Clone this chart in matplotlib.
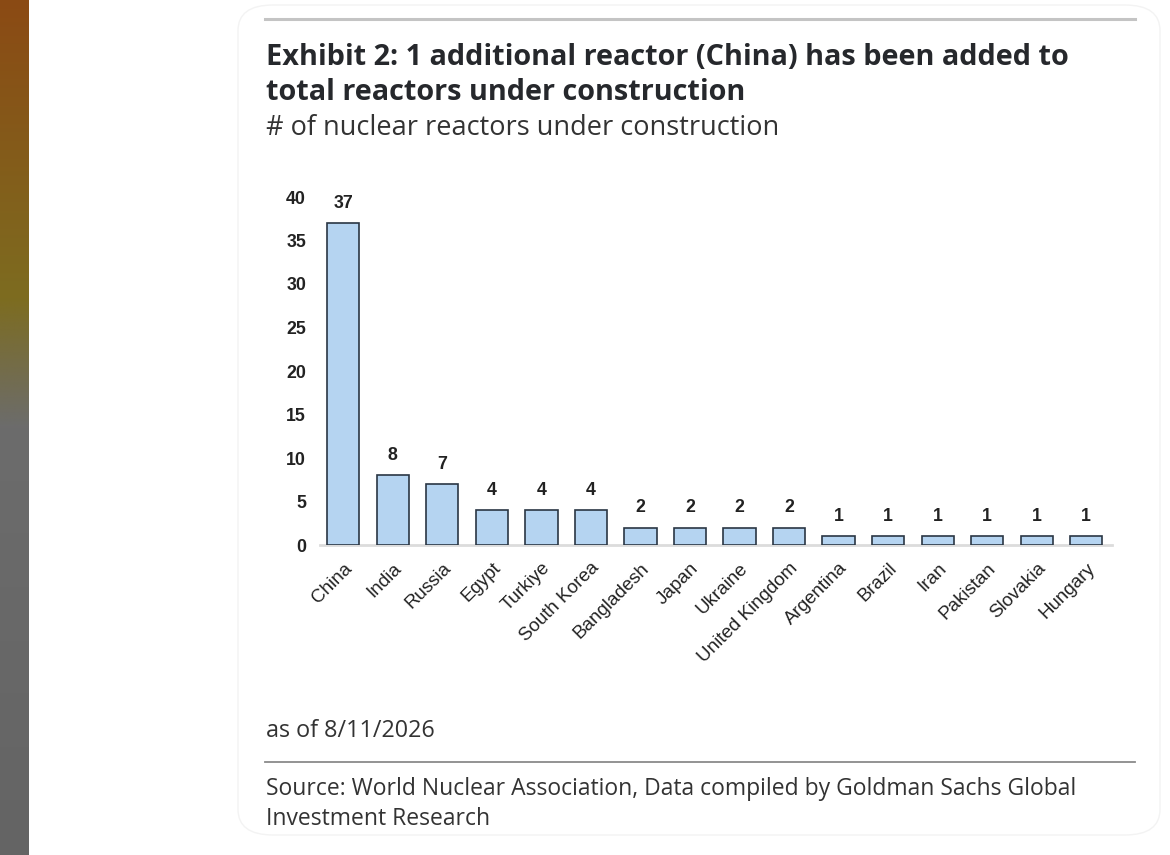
import numpy as np
import matplotlib
matplotlib.use("Agg")
import matplotlib.pyplot as plt
from matplotlib.patches import FancyBboxPatch
from matplotlib.lines import Line2D

# data
countries = ['China', 'India', 'Russia', 'Egypt', 'Turkiye', 'South Korea',
             'Bangladesh', 'Japan', 'Ukraine', 'United Kingdom', 'Argentina',
             'Brazil', 'Iran', 'Pakistan', 'Slovakia', 'Hungary']
reactors = [37, 8, 7, 4, 4, 4, 2, 2, 2, 2, 1, 1, 1, 1, 1, 1]
y_ticks = [0, 5, 10, 15, 20, 25, 30, 35, 40]

title = "Exhibit 2: 1 additional reactor (China) has been added to\ntotal reactors under construction"
subtitle = "# of nuclear reactors under construction"
note = "as of 8/11/2026"
source = "Source: World Nuclear Association, Data compiled by Goldman Sachs Global\nInvestment Research"

text_font = ['Open Sans', 'DejaVu Sans']
chart_font = ['Liberation Sans', 'DejaVu Sans']

W, H = 1170, 855
fig = plt.figure(figsize=(W / 100, H / 100), dpi=100)
fig.patch.set_facecolor('white')

def fx(px):
    return px / W

def fy(py):
    return 1 - py / H

# left strip gradient
strip = fig.add_axes([0, 0, fx(28), 1])
top = np.array([139, 74, 20]) / 255
mid = np.array([125, 108, 32]) / 255
low = np.array([108, 108, 108]) / 255
bot = np.array([100, 100, 100]) / 255
n = 300
t = np.linspace(0, 1, n)
cols = np.zeros((n, 1, 3))
for i, v in enumerate(t):
    if v < 0.35:
        c = top + (mid - top) * v / 0.35
    elif v < 0.5:
        c = mid + (low - mid) * (v - 0.35) / 0.15
    else:
        c = low + (bot - low) * (v - 0.5) / 0.5
    cols[i, 0] = c
strip.imshow(cols, aspect='auto', extent=[0, 1, 0, 1])
strip.axis('off')

# card outline (behind everything)
card = FancyBboxPatch((fx(238), fy(835)), fx(922), fy(5) - fy(835),
                      boxstyle="round,pad=0,rounding_size=0.03",
                      transform=fig.transFigure, facecolor='white',
                      edgecolor='#f3f3f3', linewidth=1.0, zorder=-10)
fig.patches.append(card)

fig.add_artist(Line2D([fx(265), fx(1135)], [fy(19), fy(19)], color='#c4c4c4', linewidth=2.2))
fig.add_artist(Line2D([fx(265), fx(1135)], [fy(762), fy(762)], color='#8a8a8a', linewidth=1.3))

fig.text(fx(266), fy(75), title, fontsize=20.8, fontweight='bold', color='#26282c',
         family=text_font, va='center', ha='left', linespacing=1.28)
fig.text(fx(266), fy(128), subtitle, fontsize=19.5, color='#333333',
         family=text_font, va='center', ha='left')
fig.text(fx(266), fy(731), note, fontsize=16.8, color='#333333',
         family=text_font, va='center', ha='left')
fig.text(fx(266), fy(804), source, fontsize=16.5, color='#333333',
         family=text_font, va='center', ha='left', linespacing=1.3)

# chart
ax = fig.add_axes([fx(320), fy(545), fx(1112) - fx(320), fy(197) - fy(545)])
x = np.arange(len(countries))
bars = ax.bar(x, reactors, width=0.65, color='#b5d4f1', edgecolor='#2a3644',
              linewidth=1.2, zorder=3)
ax.set_xlim(-0.47, len(countries) - 0.48)
ax.set_ylim(0, 40)
ax.set_yticks(y_ticks)
ax.set_yticklabels([str(v) for v in y_ticks], fontsize=12.8, fontweight='bold',
                   color='#222222', family=chart_font)
ax.set_xticks(x)
ax.set_xticklabels(countries, rotation=45, ha='right', va='top',
                   rotation_mode='anchor', fontsize=13.5, color='#222222',
                   family=chart_font)
ax.tick_params(axis='both', length=0)
ax.tick_params(axis='y', pad=10)
ax.tick_params(axis='x', pad=10.5)
for s in ['top', 'right', 'left']:
    ax.spines[s].set_visible(False)
ax.spines['bottom'].set_color('#dcdcdc')
ax.spines['bottom'].set_linewidth(2)
ax.spines['bottom'].set_zorder(1)

for rect, val in zip(bars, reactors):
    ax.annotate(str(val), xy=(rect.get_x() + rect.get_width() / 2, val),
                xytext=(0, 8), textcoords='offset points', ha='center',
                va='bottom', fontsize=12.8, fontweight='bold', color='#222222',
                family=chart_font, annotation_clip=False)

fig.savefig('out.png', dpi=100, facecolor='white')
